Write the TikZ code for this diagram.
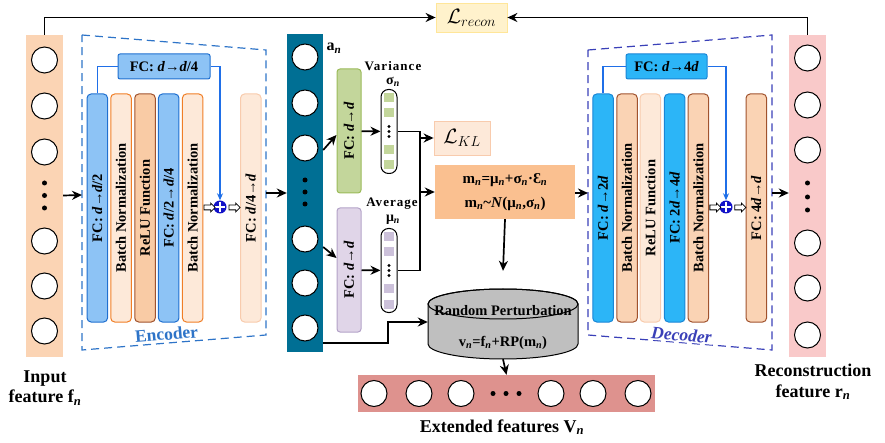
\documentclass[tikz,border=0pt]{standalone}
\usepackage{fontspec}
\setmainfont{Liberation Serif}
\usepackage{graphicx}
\usepackage{tikz}
\usetikzlibrary{arrows.meta,positioning,shapes.arrows,calc}
\definecolor{inpeach}{HTML}{FBD4B4}
\definecolor{latteal}{HTML}{006F94}
\definecolor{recpink}{HTML}{F9C9C9}
\definecolor{extrose}{HTML}{DE928E}
\definecolor{fcblue}{HTML}{8DC3F5}
\definecolor{fcblueline}{HTML}{1F6FD0}
\definecolor{bnfill}{HTML}{FDE9D9}
\definecolor{bnline}{HTML}{F07E26}
\definecolor{relufill}{HTML}{F9CBA5}
\definecolor{brownline}{HTML}{A0522D}
\definecolor{paleline}{HTML}{F8CBAD}
\definecolor{fccyan}{HTML}{2CB5F7}
\definecolor{fccyanline}{HTML}{1A86D6}
\definecolor{bnpeach}{HTML}{FAD3B4}
\definecolor{encblue}{HTML}{2E74C8}
\definecolor{decindigo}{HTML}{3A40B8}
\definecolor{skipblue}{HTML}{1F6FE8}
\definecolor{plusblue}{HTML}{1313C8}
\definecolor{varfill}{HTML}{C3D69B}
\definecolor{varline}{HTML}{9BBB59}
\definecolor{avgfill}{HTML}{E0D5E8}
\definecolor{avgline}{HTML}{B3A2C7}
\definecolor{avgsq}{HTML}{CCC1DA}
\definecolor{reconfill}{HTML}{FFF2CC}
\definecolor{reconline}{HTML}{FFE699}
\definecolor{klfill}{HTML}{FDE9D9}
\definecolor{klline}{HTML}{F8CBAD}
\definecolor{mfill}{HTML}{FAC090}
\definecolor{rpgray}{HTML}{BFBFBF}
\newcommand{\subn}{\textsubscript{\textit{n}}}

\begin{document}
\begin{tikzpicture}[x=1pt,y=-1pt,
  txt/.style={font=\bfseries\fontsize{14.5}{17}\selectfont},
  bigtxt/.style={font=\bfseries\fontsize{18}{20.5}\selectfont,align=center},
  column/.style={minimum width=37pt,minimum height=322pt,inner sep=0pt},
  neuron/.style={circle,draw,fill=white,line width=1pt,minimum size=26pt,inner sep=0pt},
  dotn/.style={circle,fill=black,minimum size=5pt,inner sep=0pt},
  slab/.style={draw,rounded corners=4pt,line width=1pt,minimum width=20.5pt,minimum height=228pt,inner sep=0pt,txt},
  fcenc/.style={slab,fill=fcblue,draw=fcblueline},
  fcdec/.style={slab,fill=fccyan,draw=fccyanline},
  topfc/.style={draw,rounded corners=2pt,line width=1pt,minimum height=25pt,inner sep=0pt,txt},
  gauss/.style={draw,rounded corners=3pt,line width=1pt,minimum width=24pt,minimum height=124pt,inner sep=0pt,txt},
  vecbox/.style={draw,rounded corners=7.5pt,line width=1pt,fill=white,minimum width=16pt,minimum height=84pt,inner sep=0pt},
  lossbox/.style={draw,line width=0.8pt,inner sep=0pt},
  plusnode/.style={circle,fill=plusblue,minimum size=13pt,inner sep=0pt,
    path picture={\draw[white,line width=2pt]
      ([yshift=-1.5pt]path picture bounding box.north) -- ([yshift=1.5pt]path picture bounding box.south)
      ([xshift=1.5pt]path picture bounding box.west) -- ([xshift=-1.5pt]path picture bounding box.east);}},
  hollow/.style={single arrow,draw,fill=white,line width=0.8pt,minimum height=11pt,inner xsep=0pt,inner ysep=2pt,single arrow head extend=2pt},
  arr/.style={-{Stealth[length=10pt,width=9pt]},line width=1.7pt},
  skipline/.style={-{Stealth[length=7pt,width=6pt]},line width=1.2pt,draw=skipblue},
  dashframe/.style={dash pattern=on 8pt off 5pt,line width=1.2pt}
]
\useasboundingbox (0,0) rectangle (885,443);

% Input feature column (left)
\node[column,fill=inpeach] (fin) at (44.5,196) {};
\foreach \y [count=\i] in {60,106,152,241,286,331} \node[neuron] (fin\i) at (44.5,\y) {};
\foreach \y [count=\i] in {183,195.5,208} \node[dotn] (find\i) at (44.5,\y) {};
\node[bigtxt] (finlab) at (45,388) {Input\\feature f\subn};

% Encoder
\draw[dashframe,encblue] (82,35) -- (266,50) -- (266,335) -- (82,350) -- cycle;
\coordinate (encin) at (82,195);
\coordinate (encout) at (266,193);
\node[fcenc] (e1) at (97.3,208) {\rotatebox{90}{FC: \textit{d}→\textit{d}/2}};
\node[slab,fill=bnfill,draw=bnline] (e2) at (121,208) {\rotatebox{90}{Batch Normalization}};
\node[slab,fill=relufill,draw=brownline] (e3) at (145,208) {\rotatebox{90}{ReLU Function}};
\node[fcenc] (e4) at (168.7,208) {\rotatebox{90}{FC: \textit{d}/2→\textit{d}/4}};
\node[slab,fill=bnfill,draw=bnline] (e5) at (192.7,208) {\rotatebox{90}{Batch Normalization}};
\node[slab,fill=bnfill,draw=paleline] (e6) at (250.8,208) {\rotatebox{90}{FC: \textit{d}/4→\textit{d}}};
\node[topfc,fill=fcblue,draw=fcblueline,minimum width=92pt] (efc) at (164,66.5) {FC: \textit{d}→\textit{d}/4};
\node[plusnode] (eplus) at (220,207) {};
\draw[skipline,-] (e1.north) |- (efc.west);
\draw[skipline] (efc.east) -| (eplus.north);
\node[hollow] (eh1) at ($(e5.east)!0.5!(eplus.west)$) {};
\node[hollow] (eh2) at ($(eplus.east)!0.5!(e6.west)$) {};
\node[txt,font=\bfseries\fontsize{17.5}{20}\selectfont,text=encblue,fill=white,inner sep=1pt,rotate=4.7] (enclab) at (166.5,334) {Encoder};

% Latent column a_n
\node[column,fill=latteal,minimum width=36pt,minimum height=318pt] (an) at (305,193) {};
\foreach \y [count=\i] in {57,103,148,239,283,328} \node[neuron] (an\i) at (305,\y) {};
\foreach \y [count=\i] in {180,192,204} \node[dotn] (and\i) at (305,\y) {};
\node[font=\bfseries\fontsize{16}{18}\selectfont] (anlab) at (334,48) {a\subn};

% Variance branch
\node[gauss,fill=varfill,draw=varline] (vfc) at (349,131) {\rotatebox{90}{FC: \textit{d}→\textit{d}}};
\node[vecbox] (vvec) at (389,131.5) {};
\foreach \dy in {-38,-23,14,29} \fill[varfill] ([xshift=-5pt]vvec.center) ++(0,\dy) rectangle ++(10,9);
\foreach \dy in {-5,0,5} \fill (vvec.center) ++(0,\dy) circle (1.6pt);
\node[txt,font=\bfseries\fontsize{13}{15}\selectfont\addfontfeature{LetterSpace=8}] (vlab) at (393,66) {Variance};
\node[txt,font=\bfseries\fontsize{14}{15}\selectfont,inner sep=0pt] (vsig) at (393,82) {σ\subn};

% Average branch
\node[gauss,fill=avgfill,draw=avgline] (afc) at (349,270) {\rotatebox{90}{FC: \textit{d}→\textit{d}}};
\node[vecbox] (avec) at (389,270.5) {};
\foreach \dy in {-38,-23,14,29} \fill[avgsq] ([xshift=-5pt]avec.center) ++(0,\dy) rectangle ++(10,9);
\foreach \dy in {-5,0,5} \fill (avec.center) ++(0,\dy) circle (1.6pt);
\node[txt,font=\bfseries\fontsize{13}{15}\selectfont\addfontfeature{LetterSpace=8}] (alab) at (392,204) {Average};
\node[txt,font=\bfseries\fontsize{14}{15}\selectfont,inner sep=0pt] (amu) at (393,220) {μ\subn};

% Losses and sampling
\node[lossbox,fill=reconfill,draw=reconline,minimum width=71pt,minimum height=29pt] (lrec) at (471.5,17.5) {\fontsize{20}{24}\selectfont$\mathcal{L}_{recon}$};
\node[lossbox,fill=klfill,draw=klline,minimum width=56pt,minimum height=34pt] (lkl) at (462,138) {\fontsize{20}{24}\selectfont$\mathcal{L}_{KL}$};
\node[txt,fill=mfill,minimum width=140pt,minimum height=54pt,inner sep=0pt,align=center,font=\bfseries\fontsize{15}{24}\selectfont] (mbox) at (505,192)
  {m\subn=μ\subn+σ\subn·Ɛ\subn\\m\subn\textasciitilde\textit{N}(μ\subn,σ\subn)};
\coordinate (split) at (420,192);

% Random perturbation cylinder
\node[minimum width=150pt,minimum height=70pt,inner sep=0pt] (rp) at (503,324) {};
\filldraw[fill=rpgray,line width=1pt] (428,304) -- (428,344) arc[start angle=180,end angle=360,x radius=75pt,y radius=15pt]
  -- (578,304) arc[start angle=0,end angle=180,x radius=75pt,y radius=15pt] -- cycle;
\draw[line width=1pt] (503,304) ellipse [x radius=75pt,y radius=15pt];
\node[txt] (rplab) at (503,311) {Random Perturbation};
\node[txt] (rpeq) at (503,343) {v\subn=f\subn+RP(m\subn)};

% Extended features (bottom)
\node[fill=extrose,minimum width=297pt,minimum height=37pt,inner sep=0pt] (ext) at (506.5,393.5) {};
\foreach \x [count=\i] in {374,419,461,551,593,638} \node[neuron] (ext\i) at (\x,393.5) {};
\foreach \x [count=\i] in {493,506,519} \node[dotn] (extd\i) at (\x,393.5) {};
\node[bigtxt] (extlab) at (502,427) {Extended features V\subn};

% Decoder
\draw[dashframe,decindigo] (588,50) -- (772,35) -- (772,350) -- (588,335) -- cycle;
\coordinate (decin) at (588,193);
\coordinate (decout) at (772,193);
\node[fcdec] (d1) at (603,208) {\rotatebox{90}{FC: \textit{d}→2\textit{d}}};
\node[slab,fill=bnpeach,draw=brownline] (d2) at (627,208) {\rotatebox{90}{Batch Normalization}};
\node[slab,fill=bnfill,draw=paleline] (d3) at (650.3,208) {\rotatebox{90}{ReLU Function}};
\node[fcdec] (d4) at (674.7,208) {\rotatebox{90}{FC: 2\textit{d}→4\textit{d}}};
\node[slab,fill=bnpeach,draw=brownline] (d5) at (698.3,208) {\rotatebox{90}{Batch Normalization}};
\node[slab,fill=bnpeach,draw=brownline] (d6) at (756.3,208) {\rotatebox{90}{FC: 4\textit{d}→\textit{d}}};
\node[topfc,fill=fccyan,draw=fccyanline,minimum width=81pt] (dfc) at (666.5,66.5) {FC: \textit{d}→4\textit{d}};
\node[plusnode] (dplus) at (726,207) {};
\draw[skipline,-] (d1.north) |- (dfc.west);
\draw[skipline] (dfc.east) -| (dplus.north);
\node[hollow] (dh1) at ($(d5.east)!0.5!(dplus.west)$) {};
\node[hollow] (dh2) at ($(dplus.east)!0.5!(d6.west)$) {};
\node[txt,font=\bfseries\itshape\fontsize{17.5}{20}\selectfont,text=decindigo,fill=white,inner sep=1pt,rotate=-4.7] (declab) at (681.5,335) {Decoder};

% Reconstruction column (right)
\node[column,fill=recpink] (rec) at (807.5,196) {};
\foreach \y [count=\i] in {58,105,150,243,288,335} \node[neuron] (rec\i) at (807.5,\y) {};
\foreach \y [count=\i] in {183,197,210} \node[dotn] (recd\i) at (807.5,\y) {};
\node[bigtxt] (reclab) at (813,382) {Reconstruction\\feature r\subn};

% Arrows
\draw[arr] (fin) -- (encin);
\draw[arr] (encout) -- (an.west |- encout);
\draw[arr] ([yshift=43pt]an.east) -- ([yshift=-4pt]vfc.west);
\draw[arr] ([yshift=-54pt]an.east) -- ([yshift=12pt]afc.west);
\draw[arr] (vfc) -- (vvec);
\draw[arr] (afc) -- (avec);
\draw[line width=1.7pt] (vvec.east) -| (split) |- (avec.east);
\draw[arr] (split |- lkl) -- (lkl.west);
\draw[arr] (split) -- (mbox.west);
\draw[arr] (mbox.south) -- ([yshift=18pt]rp.north);
\draw[arr] ([yshift=-150pt]an.east) -| (388,322) -- (rp.west |- 0,322);
\draw[arr] (rp.south) -- (ext.north);
\draw[arr] (mbox.east |- decin) -- (decin);
\draw[arr] (decout) -- (rec.west |- decout);
\draw[arr] (fin.north) |- (lrec.west);
\draw[arr] (rec.north) |- (lrec.east);

\end{tikzpicture}
\end{document}
